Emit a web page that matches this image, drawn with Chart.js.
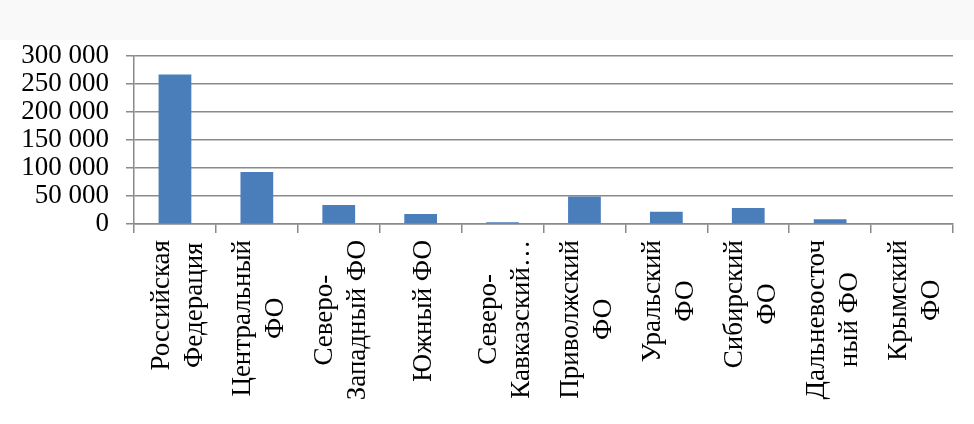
<!DOCTYPE html>
<html>
<head>
<meta charset="utf-8">
<script src="https://cdn.jsdelivr.net/npm/chart.js@4/dist/chart.umd.min.js"></script>
<style>
  html, body { margin: 0; padding: 0; }
  body { width: 974px; height: 424px; background: linear-gradient(#f9f9f9 0, #f9f9f9 40px, #fff 40px); }
  canvas { display: block; }
</style>
</head>
<body>
<canvas id="chart" width="974" height="424"></canvas>
<script>
// категории (подписи разбиты на строки как на исходном рисунке)
const categories = [
  ['Российская', 'Федерация'],
  ['Центральный', 'ФО'],
  ['Северо-', 'Западный ФО'],
  ['Южный ФО'],
  ['Северо-', 'Кавказский…'],
  ['Приволжский', 'ФО'],
  ['Уральский', 'ФО'],
  ['Сибирский', 'ФО'],
  ['Дальневосточ', 'ный ФО'],
  ['Крымский', 'ФО']
];
const values = [267000, 93000, 34000, 18000, 3000, 49000, 22000, 28500, 8500, 0];
const yMax = 300000;
const yStep = 50000;

const FONT = '"Liberation Serif", "Times New Roman", serif';
const fmt = v => String(v).replace(/\B(?=(\d{3})+(?!\d))/g, ' ');

// рисуем подписи категорий вручную: повернуты на 90°, строки центрированы
const labelPlugin = {
  id: 'rotLabels',
  afterDraw(chart) {
    const ctx = chart.ctx;
    const xs = chart.scales.x;
    const lh = 33;
    ctx.save();
    ctx.font = '27px ' + FONT;
    ctx.fillStyle = '#000';
    ctx.textAlign = 'center';
    ctx.textBaseline = 'middle';
    categories.forEach((lines, i) => {
      const x = xs.getPixelForValue(i) + 3;
      const w = Math.max(...lines.map(l => ctx.measureText(l).width));
      const yc = xs.top + 16 + w / 2;
      ctx.save();
      ctx.translate(x, yc);
      ctx.rotate(-Math.PI / 2);
      lines.forEach((line, j) => {
        ctx.fillText(line, 0, (j - (lines.length - 1) / 2) * lh);
      });
      ctx.restore();
    });
    ctx.restore();
  }
};

new Chart(document.getElementById('chart').getContext('2d'), {
  type: 'bar',
  data: {
    labels: categories,
    datasets: [{
      data: values,
      backgroundColor: '#4a7ebb',
      borderWidth: 0,
      barPercentage: 0.4,
      categoryPercentage: 1
    }]
  },
  options: {
    responsive: false,
    animation: false,
    layout: { padding: { left: 0, top: 56, right: 21, bottom: 0 } },
    plugins: {
      legend: { display: false },
      tooltip: { enabled: false }
    },
    scales: {
      x: {
        grid: {
          drawOnChartArea: false,
          drawTicks: true,
          tickLength: 9,
          color: '#8a8a8a',
          lineWidth: 1.5
        },
        border: { display: true, color: '#8a8a8a', width: 1.5 },
        ticks: { display: false },
        afterFit(scale) { scale.height = 200; }
      },
      y: {
        min: 0,
        max: yMax,
        grid: {
          color: '#8a8a8a',
          lineWidth: 1.5,
          tickLength: 8
        },
        border: { display: true, color: '#8a8a8a', width: 1.5 },
        ticks: {
          stepSize: yStep,
          autoSkip: false,
          padding: 17,
          color: '#000',
          font: { family: FONT, size: 27, lineHeight: 1 },
          callback: v => fmt(v)
        },
        afterFit(scale) { scale.width = 134; }
      }
    }
  },
  plugins: [labelPlugin]
});
</script>
</body>
</html>
